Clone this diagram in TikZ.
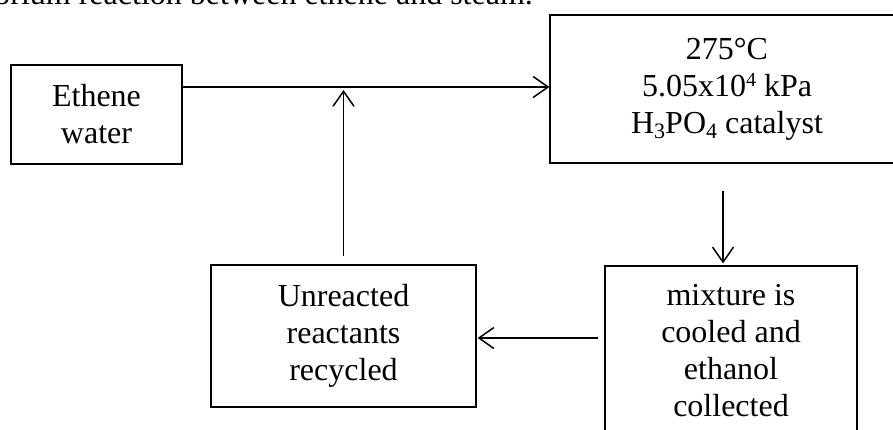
\documentclass[tikz,border=0pt]{standalone}
\usepackage{fontspec}
\setmainfont{Liberation Serif}
\usetikzlibrary{arrows.meta,calc}
\newcommand{\supfour}{\raisebox{10pt}{\fontsize{20}{20}\selectfont 4}}
\newcommand{\subnum}[1]{\raisebox{-5pt}{\fontsize{22}{22}\selectfont #1}}
\begin{document}
\begin{tikzpicture}[x=1pt,y=-1pt,
  box/.style={draw=black,line width=1.2pt,rectangle,inner sep=0pt,align=center,
    font=\fontsize{32}{37}\selectfont},
  arr/.style={line width=1.5pt,-{Straight Barb[length=15pt,width=21pt,line width=1.5pt]}},
  txt/.style={inner sep=0pt,font=\fontsize{32}{37}\selectfont}]
\useasboundingbox (0,0) rectangle (893,430);
\clip (0,0) rectangle (893,430);
\node[txt,anchor=base east] (caption) at (533,5) {equilibrium reaction between ethene and steam.};
\node[box,minimum width=171pt,minimum height=99pt] (ethene) at (96.5,114.5) {Ethene\\water};
\node[box,minimum width=354pt,minimum height=148pt] (reactor) at (727,89) {275°C\\5.05x10\supfour{} kPa\\H\subnum{3}PO\subnum{4} catalyst};
\node[box,minimum width=252pt,minimum height=169pt] (mixture) at (731,350.5) {mixture is\\cooled and\\ethanol\\collected};
\node[box,minimum width=265pt,minimum height=142pt] (unreacted) at (343.5,336) {Unreacted\\reactants\\recycled};
\coordinate (feed) at ([yshift=2pt]reactor.west);
\draw[arr] (ethene.east |- feed) -- (feed);
\draw[arr,shorten <=8pt,shorten >=3pt] (unreacted.north) -- (unreacted.north |- feed);
\coordinate (drop) at ([xshift=-8pt]mixture.north);
\draw[arr,shorten <=27pt,shorten >=2pt] (drop |- reactor.south) -- (drop);
\coordinate (back) at ([yshift=-2pt]unreacted.east);
\draw[arr,shorten <=6pt,shorten >=1pt] (mixture.west |- back) -- (back);
\end{tikzpicture}
\end{document}
